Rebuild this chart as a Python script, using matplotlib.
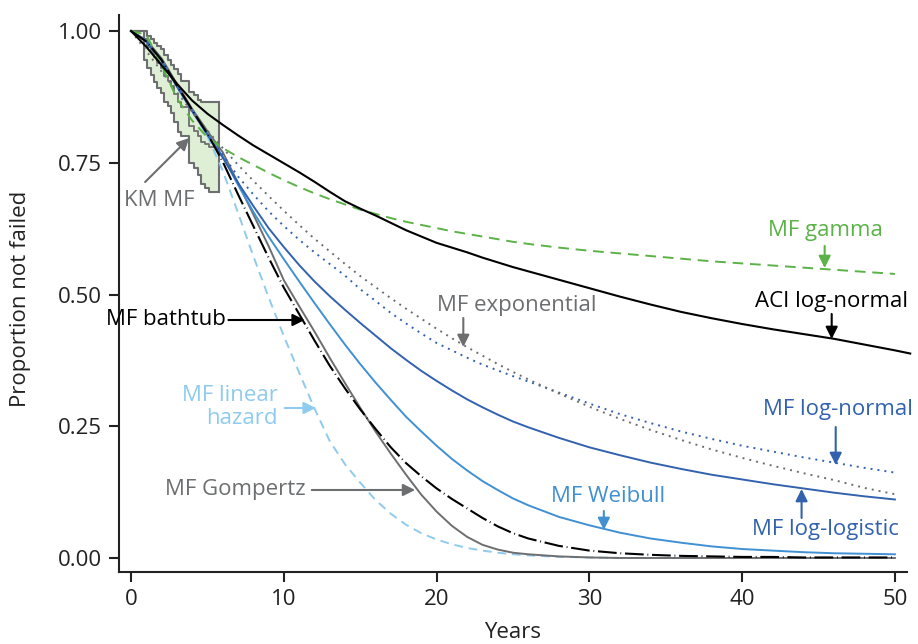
import matplotlib
matplotlib.use("Agg")
import matplotlib.pyplot as plt

# ---------------------------------------------------------------- data
years = [0, 1, 2, 3, 4, 5, 6, 7, 8, 9, 10, 11, 12, 13, 14, 15, 16, 17, 18, 19,
         20, 21, 22, 23, 24, 25, 26, 28, 30, 32, 34, 36, 38, 40, 42, 44, 46, 48, 50]

aci_years = years + [51]
aci_lognormal = [1.0, 0.97, 0.935, 0.9, 0.868, 0.843, 0.822, 0.802, 0.783, 0.766,
                 0.749, 0.732, 0.714, 0.695, 0.677, 0.663, 0.65, 0.636, 0.622, 0.61,
                 0.598, 0.589, 0.58, 0.57, 0.561, 0.552, 0.544, 0.528, 0.512, 0.496,
                 0.481, 0.467, 0.455, 0.444, 0.434, 0.425, 0.416, 0.405, 0.394, 0.388]

mf_gamma = [1.0, 0.993, 0.935, 0.872, 0.83, 0.798, 0.778, 0.761, 0.746, 0.731,
            0.717, 0.704, 0.692, 0.681, 0.671, 0.661, 0.653, 0.645, 0.638, 0.632,
            0.626, 0.62, 0.615, 0.61, 0.605, 0.6, 0.596, 0.589, 0.583, 0.578,
            0.573, 0.568, 0.563, 0.559, 0.555, 0.551, 0.547, 0.543, 0.539]

mf_exponential = [1.0, 0.962, 0.923, 0.884, 0.846, 0.811, 0.778, 0.746, 0.716, 0.687,
                  0.659, 0.632, 0.606, 0.582, 0.558, 0.535, 0.514, 0.493, 0.473, 0.454,
                  0.435, 0.417, 0.4, 0.384, 0.368, 0.353, 0.339, 0.312, 0.287, 0.264,
                  0.243, 0.224, 0.206, 0.19, 0.175, 0.161, 0.148, 0.133, 0.121]

mf_lognormal = [1.0, 0.982, 0.945, 0.895, 0.848, 0.803, 0.765, 0.724, 0.69, 0.658,
                0.63, 0.604, 0.58, 0.558, 0.536, 0.51, 0.488, 0.465, 0.445, 0.426,
                0.408, 0.394, 0.38, 0.367, 0.356, 0.345, 0.335, 0.314, 0.293, 0.273,
                0.256, 0.24, 0.226, 0.213, 0.202, 0.191, 0.181, 0.171, 0.162]

mf_loglogistic = [1.0, 0.98, 0.943, 0.895, 0.848, 0.803, 0.76, 0.712, 0.668, 0.626,
                  0.59, 0.556, 0.525, 0.497, 0.471, 0.446, 0.422, 0.398, 0.376, 0.355,
                  0.336, 0.318, 0.301, 0.286, 0.272, 0.259, 0.248, 0.228, 0.21, 0.195,
                  0.181, 0.169, 0.158, 0.149, 0.14, 0.132, 0.124, 0.117, 0.111]

mf_weibull = [1.0, 0.98, 0.943, 0.895, 0.848, 0.805, 0.762, 0.708, 0.657, 0.61,
              0.567, 0.525, 0.484, 0.444, 0.405, 0.368, 0.333, 0.3, 0.268, 0.24,
              0.213, 0.188, 0.166, 0.146, 0.129, 0.113, 0.1, 0.078, 0.062, 0.048,
              0.037, 0.029, 0.022, 0.017, 0.014, 0.011, 0.009, 0.008, 0.007]

mf_bathtub = [1.0, 0.98, 0.945, 0.897, 0.85, 0.805, 0.752, 0.69, 0.63, 0.57,
              0.513, 0.463, 0.413, 0.365, 0.322, 0.282, 0.245, 0.21, 0.18, 0.155,
              0.132, 0.112, 0.094, 0.076, 0.06, 0.047, 0.037, 0.023, 0.014, 0.009,
              0.006, 0.004, 0.003, 0.002, 0.002, 0.001, 0.001, 0.001, 0.001]

mf_gompertz = [1.0, 0.983, 0.948, 0.9, 0.852, 0.81, 0.77, 0.712, 0.652, 0.592,
               0.527, 0.478, 0.43, 0.38, 0.332, 0.285, 0.24, 0.198, 0.158, 0.12,
               0.088, 0.061, 0.04, 0.025, 0.016, 0.01, 0.007, 0.003, 0.001, 0.0,
               0.0, 0.0, 0.0, 0.0, 0.0, 0.0, 0.0, 0.0, 0.0]

mf_linear_hazard = [1.0, 0.982, 0.945, 0.898, 0.85, 0.8, 0.735, 0.655, 0.573, 0.495,
                    0.421, 0.352, 0.284, 0.222, 0.178, 0.143, 0.11, 0.084, 0.063, 0.047,
                    0.035, 0.026, 0.019, 0.014, 0.01, 0.007, 0.005, 0.002, 0.001, 0.0,
                    0.0, 0.0, 0.0, 0.0, 0.0, 0.0, 0.0, 0.0, 0.0]

# Kaplan-Meier estimate with confidence limits (last time = end of follow-up)
km_times = [0.0, 0.85, 1.05, 1.3, 1.5, 1.7, 1.95, 2.15, 2.4, 2.6, 2.8, 3.05, 3.3,
            3.8, 4.1, 4.35, 4.55, 4.85, 5.1, 5.75]
km_surv = [1.0, 0.985, 0.97, 0.96, 0.95, 0.94, 0.93, 0.915, 0.905, 0.895, 0.88, 0.865,
           0.855, 0.82, 0.81, 0.8, 0.79, 0.785, 0.78, 0.78]
km_upper = [1.0, 1.0, 0.99, 0.985, 0.978, 0.972, 0.965, 0.955, 0.945, 0.935, 0.928,
            0.918, 0.905, 0.885, 0.878, 0.87, 0.866, 0.866, 0.866, 0.866]
km_lower = [1.0, 0.945, 0.93, 0.917, 0.904, 0.891, 0.882, 0.866, 0.857, 0.845, 0.828,
            0.808, 0.8, 0.75, 0.74, 0.727, 0.71, 0.703, 0.695, 0.695]

x_ticks = [0, 10, 20, 30, 40, 50]
y_ticks = [0.0, 0.25, 0.5, 0.75, 1.0]
y_ticklabels = ["0.00", "0.25", "0.50", "0.75", "1.00"]

# ---------------------------------------------------------------- style
plt.rcParams["font.family"] = ["Open Sans", "DejaVu Sans"]
FS = 16

GREY = "#6d6e70"
GREEN = "#5bb246"
DARK_BLUE = "#3262ae"
MID_BLUE = "#4090d3"
LIGHT_BLUE = "#8ecbee"
BAND = "#dfefd6"
INK = "#222222"

fig = plt.figure(figsize=(9.18, 6.44), dpi=100)
W, H = 918, 644
ax = fig.add_axes([119 / W, 1 - 572 / H, (907 - 119) / W, (572 - 15) / H])
ax.set_xlim(-0.79, 50.79)
ax.set_ylim(-0.0266, 1.0304)

# ---------------------------------------------------------------- KM band
ax.fill_between(km_times, km_lower, km_upper, step="post", color=BAND, lw=0, zorder=1)
ax.step(km_times, km_upper, where="post", color=GREY, lw=1.5, zorder=2)
ax.step(km_times, km_lower, where="post", color=GREY, lw=1.5, zorder=2)
ax.step(km_times, km_surv, where="post", color=GREY, lw=1.3, zorder=2)
ax.plot([km_times[-1], km_times[-1]], [km_lower[-1], km_upper[-1]], color=GREY, lw=1.5, zorder=2)

# ---------------------------------------------------------------- curves
LW = 1.4
ax.plot(years, mf_linear_hazard, color=LIGHT_BLUE, lw=LW, ls=(0, (4.5, 3)), zorder=3)
ax.plot(years, mf_gompertz, color=GREY, lw=LW, zorder=3)
ax.plot(years, mf_bathtub, color="black", lw=1.5, ls=(0, (9, 1.8, 0.4, 1.8)), zorder=4)
ax.plot(years, mf_weibull, color=MID_BLUE, lw=LW, zorder=3)
ax.plot(years, mf_loglogistic, color=DARK_BLUE, lw=LW, zorder=3)
ax.plot(years, mf_lognormal, color=DARK_BLUE, lw=LW, ls=(0, (1, 2.6)), zorder=3)
ax.plot(years, mf_exponential, color=GREY, lw=LW, ls=(0, (1, 2.6)), zorder=3)
ax.plot(years, mf_gamma, color=GREEN, lw=LW, ls=(0, (5.5, 3.5)), zorder=3)
ax.plot(aci_years, aci_lognormal, color="black", lw=1.5, zorder=4, clip_on=False)

# ---------------------------------------------------------------- labels
def px_x(p):
    return (p - 134) / 15.22


def px_y(p):
    return (558 - p) / 527


def label(text, tx, ty, color, ha="center"):
    ax.text(px_x(tx), px_y(ty), text, color=color, fontsize=FS, ha=ha, va="center",
            linespacing=1.15, zorder=6)


def arrow(x0, y0, x1, y1, color):
    ax.annotate("", xy=(px_x(x1), px_y(y1)), xytext=(px_x(x0), px_y(y0)),
                arrowprops=dict(arrowstyle="-|>", color=color, lw=1.5,
                                mutation_scale=18, shrinkA=0, shrinkB=0),
                zorder=6)


label("KM MF", 162, 200, GREY)
arrow(148, 182, 192, 138, GREY)

label("MF gamma", 826, 230, GREEN)
arrow(825, 246, 825, 268, GREEN)

label("ACI log-normal", 832, 301, "black")
arrow(832, 314, 832, 339, "black")

label("MF exponential", 518, 305, GREY)
arrow(465, 318, 465, 347, GREY)

label("MF bathtub", 228, 320, "black", ha="right")
arrow(231, 320, 307, 320, "black")

label("MF linear\nhazard", 280, 407, LIGHT_BLUE, ha="right")
arrow(287, 408, 318, 408, LIGHT_BLUE)

label("MF Gompertz", 308, 490, GREY, ha="right")
arrow(314, 490, 417, 490, GREY)

label("MF Weibull", 609, 497, MID_BLUE)
arrow(605, 511, 605, 530, MID_BLUE)

label("MF log-normal", 838, 410, DARK_BLUE)
arrow(836, 427, 836, 465, DARK_BLUE)

label("MF log-logistic", 826, 530, DARK_BLUE)
arrow(802, 518, 802, 489, DARK_BLUE)

# ---------------------------------------------------------------- axes
for side in ("top", "right"):
    ax.spines[side].set_visible(False)
for side in ("left", "bottom"):
    ax.spines[side].set_linewidth(1.5)
    ax.spines[side].set_color(INK)

ax.set_xticks(x_ticks)
ax.set_yticks(y_ticks)
ax.set_yticklabels(y_ticklabels)
ax.tick_params(axis="both", direction="out", length=7, width=1.5, color=INK,
               labelsize=FS, labelcolor=INK)
ax.tick_params(axis="y", pad=5)
ax.tick_params(axis="x", pad=5)

ax.set_xlabel("Years", fontsize=FS, color=INK)
ax.set_ylabel("Proportion not failed", fontsize=FS, color=INK)
ax.xaxis.set_label_coords(0.5, (572 - 632) / 557)
ax.xaxis.label.set_va("center")
ax.yaxis.set_label_coords((20 - 119) / 788, (572 - 299) / 557)
ax.yaxis.label.set_va("center")

fig.savefig("out.png", dpi=100)
